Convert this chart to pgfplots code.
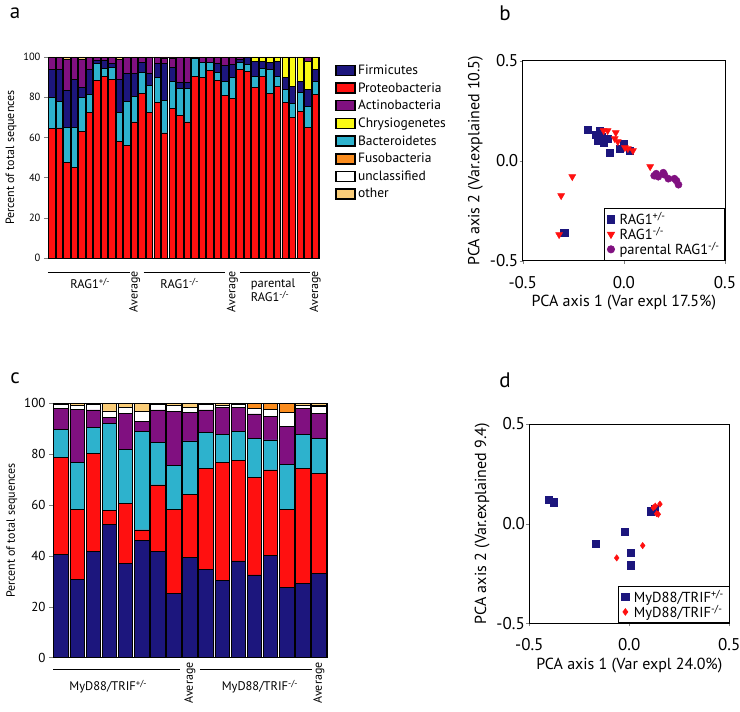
\documentclass[border=0pt]{standalone}
\usepackage{fontspec}
\setmainfont{PT Sans}
\usepackage{pgfplots}
\pgfplotsset{compat=1.18}
\usepackage{pgfplotstable}

\definecolor{firm}{RGB}{28,22,125}
\definecolor{prot}{RGB}{255,16,16}
\definecolor{acti}{RGB}{128,16,128}
\definecolor{chry}{RGB}{250,250,20}
\definecolor{bact}{RGB}{45,178,205}
\definecolor{fuso}{RGB}{250,140,30}
\definecolor{othr}{RGB}{250,205,120}

% panel a: segments bottom to top
\pgfplotstableread{
n pro bac fir chr act oth
1 64.3 15.7 13.8 0 5.8 0.4
2 64.7 13.0 16.1 0 5.8 0.4
3 47.5 17.5 18.3 0 15.5 1.2
4 45.2 19.6 24.2 0 10.6 0.4
5 63.0 17.0 5.0 0 14.0 1.0
6 72.2 9.1 12.5 0 5.8 0.4
7 88.3 8.4 1.6 0 1.3 0.4
8 90.5 3.8 4.0 0 1.4 0.3
9 88.8 5.9 2.0 0 3.0 0.3
10 58.0 14.2 16.6 0 10.2 1.0
11 56.0 21.7 14.0 0 7.9 0.4
12 67.7 12.8 11.2 0 7.9 0.4
13 81.7 10.5 5.0 0 2.4 0.4
14 72.2 13.8 5.7 0 7.9 0.4
15 77.2 12.5 7.0 0 2.9 0.4
16 62.2 16.1 18.4 0 2.8 0.5
17 74.3 13.4 7.3 0 4.5 0.5
18 71.0 13.3 3.0 0 12.3 0.4
19 67.7 16.6 2.9 0 12.4 0.4
20 90.5 8.8 0 0 0.4 0.3
21 89.7 7.5 0 0 2.5 0.3
22 93.3 3.9 0 0 2.5 0.3
23 88.3 3.9 4.5 0 3.0 0.3
24 81.0 6.7 8.3 0 3.6 0.4
25 79.3 10.4 6.6 0 3.3 0.4
26 93.8 3.4 1.6 0 0.8 0.4
27 92.7 3.6 3.3 0 0 0.4
28 84.7 5.8 7.5 2.0 0 0
29 90.5 3.8 3.7 1.7 0 0.3
30 81.7 12.1 3.4 2.5 0 0.3
31 85.5 5.0 7.2 2.3 0 0
32 77.2 6.6 5.9 10.0 0 0.3
33 70.0 6.7 8.8 14.2 0 0.3
34 72.7 9.5 5.8 11.6 0 0.4
35 65.0 10.5 8.3 14.2 1.6 0.4
36 81.3 6.4 6.1 5.8 0 0.4
}\rag

% panel c: segments bottom to top
\pgfplotstableread{
n fir pro bac act unc fus oth
1 40.5 38.2 11.1 8.2 1.5 0 0.5
2 30.8 27.5 18.4 21.0 1.3 0 1.0
3 41.7 38.6 10.3 6.8 2.0 0 0.6
4 52.2 5.5 34.5 2.2 2.6 0 3.0
5 37.1 23.6 21.0 14.4 2.2 0 1.7
6 45.9 4.3 38.9 3.7 3.9 0 3.3
7 41.7 26.2 16.6 12.9 2.0 0 0.6
8 25.3 32.8 17.4 21.2 2.3 0 1.0
9 39.4 24.6 21.2 11.3 2.0 0 1.5
10 34.5 40.0 14.0 8.9 2.0 0 0.6
11 30.3 46.4 11.1 10.5 1.0 0 0.7
12 38.0 39.5 11.6 9.3 1.0 0 0.6
13 32.5 38.4 15.3 9.6 2.3 1.9 0
14 40.1 33.7 11.8 9.2 2.9 2.3 0
15 27.6 30.7 17.7 14.8 5.5 3.7 0
16 29.2 45.3 13.4 10.1 1.2 0 0.8
17 33.2 39.3 13.5 10.1 2.6 0.5 0.8
}\myd

\pgfplotsset{
  barpanel/.style={
    scale only axis, anchor=south west, ybar stacked, clip=false,
    ymin=0, ymax=100, ytick={0,20,...,100}, xtick=\empty,
    tick pos=left, tick align=outside, major tick length=4pt,
    /pgf/number format/assume math mode=true,
    ylabel={Percent of total sequences},
    ylabel style={font=\fontsize{12}{14}\selectfont},
    axis line style={line width=0.8pt},
    every axis plot/.append style={draw=black, line width=0.8pt},
  },
  pcapanel/.style={
    scale only axis, anchor=south west,
    xmin=-0.5, xmax=0.5, ymin=-0.5, ymax=0.5,
    xtick={-0.5,0,0.5}, xticklabels={-0.5,0.0,0.5},
    ytick={-0.5,0,0.5}, yticklabels={-0.5,0.0,0.5},
    tick pos=left, tick align=outside, major tick length=3pt,
    ticklabel style={font=\fontsize{17}{19}\selectfont},
    xticklabel style={yshift=-9pt},
    yticklabel style={xshift=2pt},
    label style={font=\fontsize{16}{18}\selectfont},
    xlabel style={yshift=0pt},
    axis line style={line width=0.8pt},
    legend style={at={(1,0)}, anchor=south east, draw=black, line width=0.8pt,
      font=\fontsize{14.5}{16}\selectfont, row sep=-3pt,
      /tikz/every odd column/.append style={column sep=3pt}},
    legend cell align=left,
  },
}
\tikzset{
  grplab/.style={font=\fontsize{12.5}{14}\selectfont},
  avglab/.style={font=\fontsize{12}{14}\selectfont, rotate=90, anchor=east, inner sep=0pt},
}

\begin{document}
\begin{tikzpicture}[x=1pt,y=1pt]
\useasboundingbox (0,0) rectangle (740,712);

% ---------------- panel a
\begin{axis}[barpanel, at={(48pt,454pt)}, width=271pt, height=201pt,
  bar width=0.85, xmin=0.5, xmax=36.5,
  yticklabel style={font=\fontsize{10.5}{12}\selectfont},
  legend style={at={(1.06,0.972)}, anchor=north west, draw=none, fill=none,
    font=\fontsize{13.5}{15}\selectfont, row sep=2.6pt, inner sep=0pt},
  legend cell align=left,
  legend image code/.code={\draw[#1, draw=black, line width=1.6pt] (0pt,-5pt) rectangle (19pt,5pt);},
]
\addplot[fill=prot, forget plot] table[x=n,y=pro]{\rag};
\addplot[fill=bact, forget plot] table[x=n,y=bac]{\rag};
\addplot[fill=firm, forget plot] table[x=n,y=fir]{\rag};
\addplot[fill=chry, forget plot] table[x=n,y=chr]{\rag};
\addplot[fill=acti, forget plot] table[x=n,y=act]{\rag};
\addplot[fill=othr, forget plot] table[x=n,y=oth]{\rag};
\addlegendimage{fill=firm}\addlegendentry{Firmicutes}
\addlegendimage{fill=prot}\addlegendentry{Proteobacteria}
\addlegendimage{fill=acti}\addlegendentry{Actinobacteria}
\addlegendimage{fill=chry}\addlegendentry{Chrysiogenetes}
\addlegendimage{fill=bact}\addlegendentry{Bacteroidetes}
\addlegendimage{fill=fuso}\addlegendentry{Fusobacteria}
\addlegendimage{fill=white}\addlegendentry{unclassified}
\addlegendimage{fill=othr}\addlegendentry{other}
% group labels
\draw[line width=1.2pt] (axis cs:0.5,-7.3) -- (axis cs:11.4,-7.3);
\draw[line width=1.2pt] (axis cs:13.2,-7.3) -- (axis cs:24.0,-7.3);
\draw[line width=1.2pt] (axis cs:26.0,-7.3) -- (axis cs:35.3,-7.3);
\node[grplab] at (axis cs:6.1,-12.6) {RAG1\textsuperscript{+/-}};
\node[grplab] at (axis cs:18.0,-12.6) {RAG1\textsuperscript{-/-}};
\node[grplab, align=left] at (axis cs:30.4,-16.2) {parental\\RAG1\textsuperscript{-/-}};
\node[avglab] at (axis cs:12,-6.5) {Average};
\node[avglab] at (axis cs:25,-6.5) {Average};
\node[avglab] at (axis cs:36,-6.5) {Average};
\end{axis}

% ---------------- panel c
\begin{axis}[barpanel, at={(53pt,54.4pt)}, width=274pt, height=254.3pt,
  bar width=0.9, xmin=0.5, xmax=17.5,
  yticklabel style={font=\fontsize{13}{15}\selectfont}]
\addplot[fill=firm] table[x=n,y=fir]{\myd};
\addplot[fill=prot] table[x=n,y=pro]{\myd};
\addplot[fill=bact] table[x=n,y=bac]{\myd};
\addplot[fill=acti] table[x=n,y=act]{\myd};
\addplot[fill=white] table[x=n,y=unc]{\myd};
\addplot[fill=fuso] table[x=n,y=fus]{\myd};
\addplot[fill=othr] table[x=n,y=oth]{\myd};
\draw[line width=1.2pt] (axis cs:0.52,-4.6) -- (axis cs:8.38,-4.6);
\draw[line width=1.2pt] (axis cs:9.62,-4.6) -- (axis cs:16.55,-4.6);
\node[grplab] at (axis cs:3.93,-11.5) {MyD88/TRIF\textsuperscript{+/-}};
\node[grplab] at (axis cs:13.34,-11.5) {MyD88/TRIF\textsuperscript{-/-}};
\node[avglab] at (axis cs:9,-1.8) {Average};
\node[avglab] at (axis cs:17,-1.8) {Average};
\end{axis}

% ---------------- panel b
\begin{axis}[pcapanel, at={(522.7pt,451.3pt)}, width=202.3pt, height=200pt,
  xlabel={PCA axis 1 (Var expl 17.5\%)}, ylabel={PCA axis 2 (Var.explained 10.5)}]
\addplot[only marks, mark=square*, mark size=3.6pt, color=firm] coordinates {
(-0.18,0.155) (-0.12,0.15) (-0.14,0.13) (-0.13,0.10) (-0.10,0.09) (-0.08,0.11)
(-0.11,0.12) (-0.07,0.04) (-0.02,0.06) (0.0,0.085) (0.03,0.05) (-0.295,-0.36)};
\addlegendentry{RAG1\textsuperscript{+/-}}
\addplot[only marks, mark=triangle*, mark size=4pt, mark options={rotate=180}, color=prot] coordinates {
(-0.10,0.15) (-0.08,0.15) (-0.04,0.14) (-0.045,0.11) (-0.03,0.095) (0.005,0.065)
(0.02,0.06) (0.045,0.05) (0.13,-0.03) (-0.255,-0.08) (-0.31,-0.175) (-0.32,-0.37)};
\addlegendentry{RAG1\textsuperscript{-/-}}
\addplot[only marks, mark=*, mark size=3.6pt, color=acti] coordinates {
(0.15,-0.075) (0.16,-0.065) (0.17,-0.08) (0.195,-0.06) (0.2,-0.07) (0.22,-0.09)
(0.25,-0.09) (0.26,-0.1) (0.27,-0.12)};
\addlegendentry{parental RAG1\textsuperscript{-/-}}
\end{axis}

% ---------------- panel d
\begin{axis}[pcapanel, at={(529.3pt,88.7pt)}, width=200pt, height=199.3pt,
  xlabel={PCA axis 1 (Var expl 24.0\%)}, ylabel={PCA axis 2 (Var.explained 9.4)}]
\addplot[only marks, mark=square*, mark size=3.6pt, color=firm] coordinates {
(-0.405,0.12) (-0.38,0.108) (-0.167,-0.1) (-0.022,-0.042) (0.007,-0.147)
(0.008,-0.208) (0.108,0.062) (0.128,0.075)};
\addlegendentry{MyD88/TRIF\textsuperscript{+/-}}
\addplot[only marks, mark=diamond*, mark size=3.2pt, color=prot] coordinates {
(-0.063,-0.172) (0.067,-0.11) (0.12,0.08) (0.13,0.088) (0.153,0.098)
(0.145,0.047) (0.137,0.05)};
\addlegendentry{MyD88/TRIF\textsuperscript{-/-}}
\end{axis}

% panel letters
\node[font=\fontsize{21}{24}\selectfont] at (15,699) {a};
\node[font=\fontsize{21}{24}\selectfont] at (505,699) {b};
\node[font=\fontsize{21}{24}\selectfont] at (15,334) {c};
\node[font=\fontsize{21}{24}\selectfont] at (505,332) {d};
\end{tikzpicture}
\end{document}
